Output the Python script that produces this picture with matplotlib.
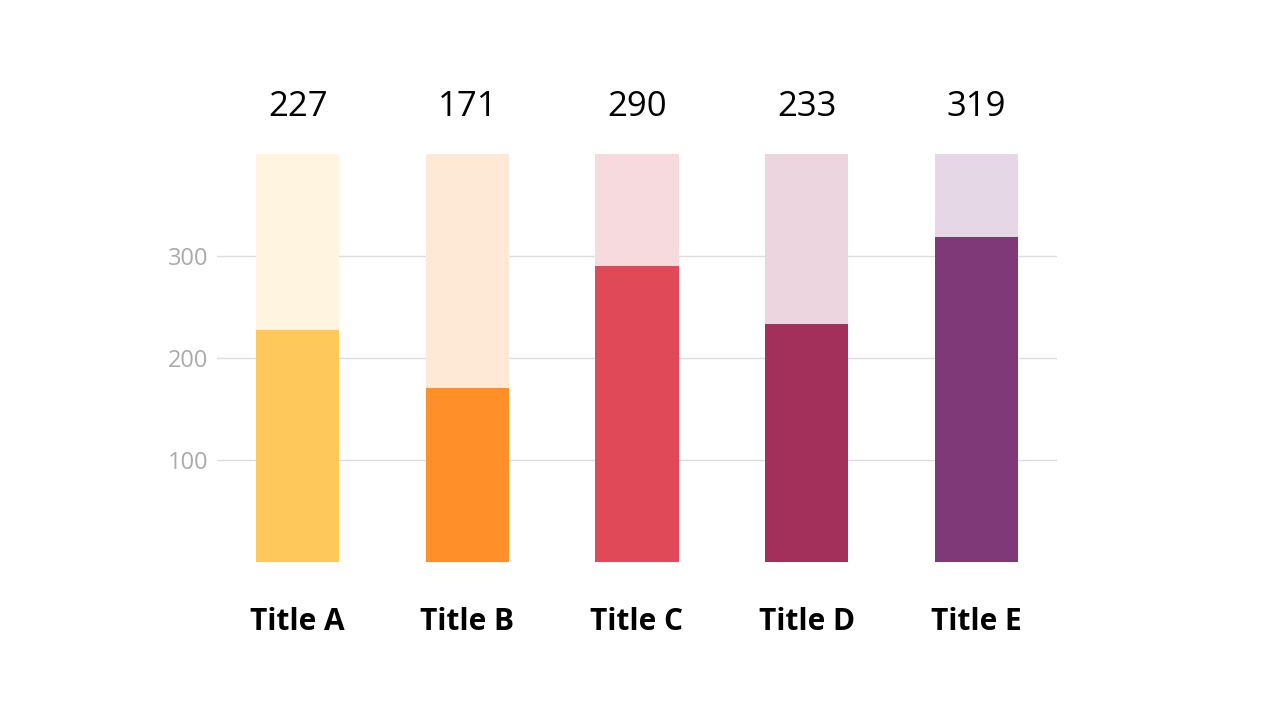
import matplotlib
matplotlib.use("Agg")
import matplotlib.pyplot as plt

categories = ["Title A", "Title B", "Title C", "Title D", "Title E"]
values = [227, 171, 290, 233, 319]
max_value = 400
bar_colors = ["#FFC85A", "#FF9029", "#E04A58", "#A3305A", "#7F3878"]
bg_colors = ["#FFF4E0", "#FDE9D6", "#F7DADE", "#ECD5DE", "#E5D7E6"]
yticks = [100, 200, 300]

plt.rcParams['font.family'] = ['Open Sans', 'DejaVu Sans']

fig = plt.figure(figsize=(12.8, 7.2), dpi=100)
ax = fig.add_axes([217/1280, 158/720, 840/1280, 408/720])

x = list(range(len(categories)))
width = 0.49
ax.bar(x, [max_value]*len(x), width=width, color=bg_colors, zorder=2)
ax.bar(x, values, width=width, color=bar_colors, zorder=3)

ax.set_xlim(-0.475, 4.475)
ax.set_ylim(0, max_value)
ax.set_yticks(yticks)
ax.set_yticklabels([str(t) for t in yticks], color="#AAAAAA", fontsize=17)
ax.yaxis.grid(True, color="#DDDDDD", linewidth=1, zorder=1)
ax.tick_params(axis='y', length=0, pad=6)
ax.set_xticks([])
for s in ax.spines.values():
    s.set_visible(False)

for xi, v, c in zip(x, values, categories):
    ax.annotate(str(v), xy=(xi, max_value), xytext=(0, 34), textcoords="offset points",
                ha="center", va="center", fontsize=25, color="black")
    ax.annotate(c, xy=(xi, 0), xytext=(0, -43), textcoords="offset points",
                ha="center", va="center", fontsize=21.5, fontweight="bold", color="black")

fig.savefig("out.png", dpi=100)
